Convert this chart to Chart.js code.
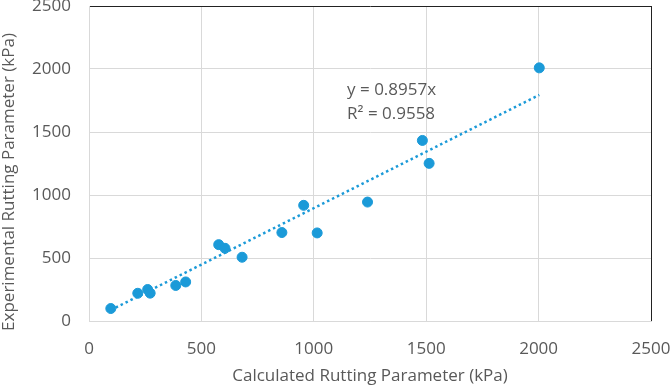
<!DOCTYPE html>
<html>
<head>
<meta charset="utf-8">
<script src="https://cdn.jsdelivr.net/npm/chart.js@4"></script>
<style>
  html, body { margin: 0; padding: 0; background: #fff; }
  #wrap { width: 671px; height: 386px; }
</style>
</head>
<body>
<div id="wrap"><canvas id="chart"></canvas></div>
<script>
// measured points (kPa)
const calculated = [97, 217, 261, 272, 386, 430, 577, 605, 681, 858, 955, 1015, 1239, 1483, 1513, 2003];
const experimental = [99, 220, 250, 221, 282, 310, 606, 577, 506, 702, 918, 699, 944, 1433, 1251, 2009];
const slope = 0.8957;
const r2 = 0.9558;
const axisTicks = [0, 500, 1000, 1500, 2000, 2500];
const xTitle = "Calculated Rutting Parameter (kPa)";
const yTitle = "Experimental Rutting Parameter (kPa)";

const blue = "#1b9ad8";
const font = "'Open Sans', sans-serif";
const textGrey = "#595959";

const points = calculated.map((x, i) => ({ x: x, y: experimental[i] }));
const xMin = Math.min(...calculated);
const xMax = Math.max(...calculated);
const trend = [{ x: xMin, y: slope * xMin }, { x: xMax, y: slope * xMax }];

// equation box + y title (the y title sits a bit below the plot centre in the original)
const extraText = {
  id: "extraText",
  afterDatasetsDraw(chart) {
    const { ctx, scales } = chart;
    const x = scales.x.getPixelForValue(1148);
    ctx.save();
    ctx.fillStyle = textGrey;
    ctx.font = "17px " + font;
    ctx.textBaseline = "middle";
    ctx.fillText("y = " + slope + "x", x, scales.y.getPixelForValue(1833));
    ctx.fillText("R² = " + r2, x, scales.y.getPixelForValue(1643));
    ctx.translate(9, 182);
    ctx.rotate(-Math.PI / 2);
    ctx.textAlign = "center";
    ctx.fillText(yTitle, 0, 0);
    ctx.restore();
  }
};

const gridColor = (ctx) => ctx.tick && ctx.tick.value === 2500 ? "#222" : "#d9d9d9";

new Chart(document.getElementById("chart"), {
  type: "scatter",
  data: {
    datasets: [
      {
        label: "data",
        data: points,
        backgroundColor: blue,
        borderColor: blue,
        pointRadius: 5,
        pointHoverRadius: 5,
        order: 1
      },
      {
        type: "line",
        label: "trend",
        data: trend,
        borderColor: blue,
        borderWidth: 2.5,
        borderDash: [2.5, 3],
        borderCapStyle: "butt",
        pointRadius: 0,
        fill: false,
        order: 2
      }
    ]
  },
  options: {
    responsive: true,
    maintainAspectRatio: false,
    animation: false,
    layout: { padding: { top: 6, right: 20, left: 0, bottom: 0 } },
    plugins: { legend: { display: false }, tooltip: { enabled: false } },
    scales: {
      x: {
        type: "linear",
        min: 0,
        max: 2500,
        afterBuildTicks: (axis) => { axis.ticks = axisTicks.map(v => ({ value: v })); },
        afterFit: (axis) => { axis.height = 65; axis.paddingLeft = 0; axis.paddingRight = 0; },
        grid: { color: gridColor, lineWidth: 1, drawTicks: false },
        border: { color: "#d9d9d9" },
        ticks: { color: textGrey, font: { family: font, size: 17 }, padding: 18, maxRotation: 0, callback: (v) => String(v) },
        title: {
          display: true,
          text: xTitle,
          color: textGrey,
          font: { family: font, size: 17 },
          padding: { top: 2, bottom: 0 }
        }
      },
      y: {
        type: "linear",
        min: 0,
        max: 2500,
        afterBuildTicks: (axis) => { axis.ticks = axisTicks.map(v => ({ value: v })); },
        afterFit: (axis) => { axis.width = 89; axis.paddingTop = 0; axis.paddingBottom = 0; },
        grid: { color: gridColor, lineWidth: 1, drawTicks: false },
        border: { color: "#d9d9d9" },
        ticks: { color: textGrey, font: { family: font, size: 17 }, padding: 18, callback: (v) => String(v) },
        title: { display: false }
      }
    }
  },
  plugins: [extraText]
});
</script>
</body>
</html>
